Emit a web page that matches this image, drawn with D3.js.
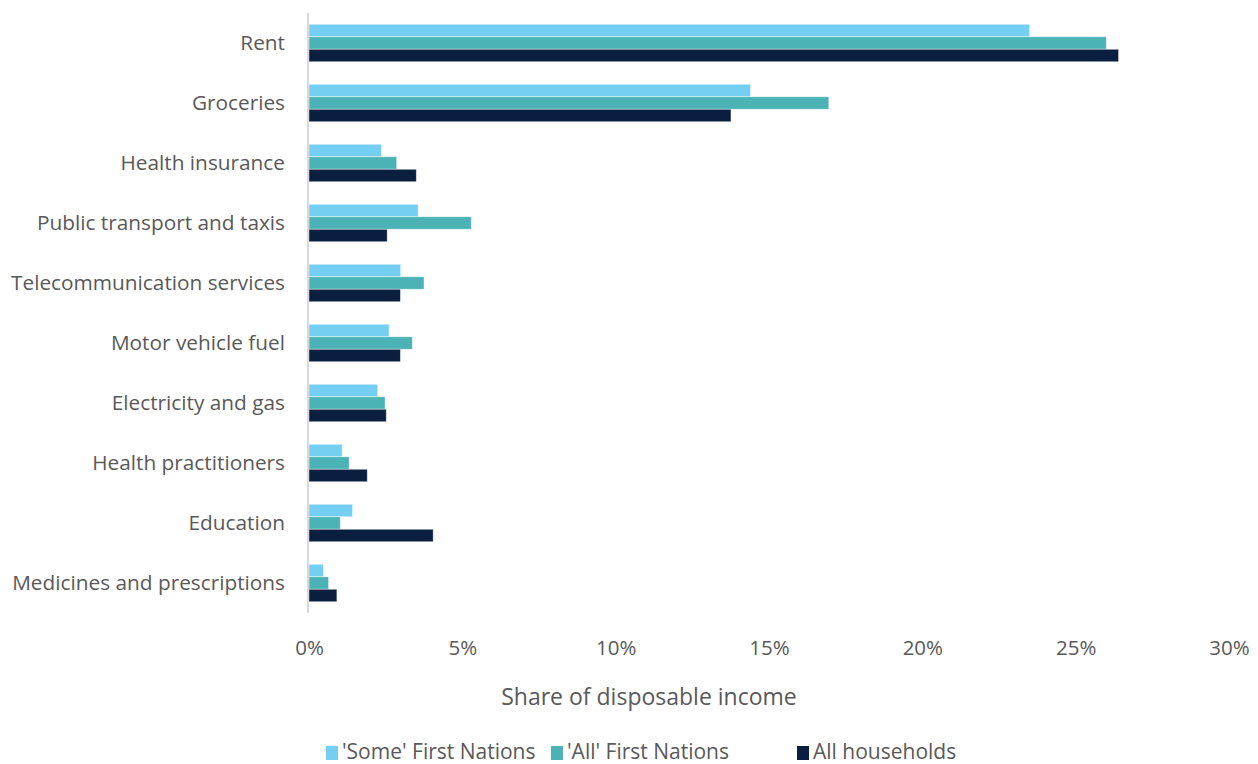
<!DOCTYPE html>
<html>
<head>
<meta charset="utf-8">
<script src="https://cdn.jsdelivr.net/npm/d3@7"></script>
<style>
  html, body { margin: 0; padding: 0; background: #fff; }
  svg text { font-family: "Open Sans", "Noto Sans", sans-serif; fill: #595959; }
</style>
</head>
<body>
<svg id="chart" width="1258" height="764"></svg>
<script>
// Household spending categories, top to bottom
const categories = [
  "Rent", "Groceries", "Health insurance", "Public transport and taxis",
  "Telecommunication services", "Motor vehicle fuel", "Electricity and gas",
  "Health practitioners", "Education", "Medicines and prescriptions"
];
const seriesNames = ["'Some' First Nations", "'All' First Nations", "All households"];
// Share of disposable income (%)
const someFirstNations = [23.5, 14.4, 2.36, 3.56, 2.99, 2.61, 2.24, 1.08, 1.42, 0.47];
const allFirstNations  = [26.0, 16.95, 2.86, 5.29, 3.75, 3.37, 2.48, 1.31, 1.02, 0.64];
const allHouseholds    = [26.4, 13.76, 3.5, 2.55, 2.98, 2.98, 2.52, 1.90, 4.05, 0.91];
const xTicks = [0, 5, 10, 15, 20, 25, 30];
const colors = ["#75CFF3", "#4BB2B5", "#0A1F40"];

const series = [someFirstNations, allFirstNations, allHouseholds];
const svg = d3.select("#chart");

const plot = { left: 309, right: 1229, top: 13, bottom: 613 };

const x = d3.scaleLinear().domain([0, 30]).range([plot.left, plot.right]);
const y = d3.scaleBand().domain(categories).range([plot.top, plot.bottom]).paddingInner(0.375).paddingOuter(0.1875);
const ySub = d3.scaleBand().domain(d3.range(seriesNames.length)).range([0, y.bandwidth()]);

// Bars
const groups = svg.append("g").selectAll("g")
  .data(categories)
  .join("g")
  .attr("transform", d => `translate(0,${y(d)})`);

groups.selectAll("rect")
  .data((d, i) => series.map((s, k) => ({ k, v: s[i] })))
  .join("rect")
  .attr("x", x(0))
  .attr("y", d => ySub(d.k))
  .attr("width", d => x(d.v) - x(0))
  .attr("height", ySub.bandwidth())
  .attr("fill", d => colors[d.k])
  .attr("stroke", "rgba(255,255,255,0.55)")
  .attr("stroke-width", 0.8);

// Vertical category axis line
svg.append("line")
  .attr("x1", x(0) - 1).attr("x2", x(0) - 1)
  .attr("y1", plot.top).attr("y2", plot.bottom)
  .attr("stroke", "#d9d9d9").attr("stroke-width", 2);

// Category labels
const yAxis = d3.axisLeft(y).tickSize(0).tickPadding(24);
const yG = svg.append("g").attr("transform", `translate(${x(0)},0)`).call(yAxis);
yG.select(".domain").remove();
yG.selectAll("text").style("font-size", "20.8px").attr("fill", "#595959");

// Value axis ticks
const xAxis = d3.axisBottom(x).tickValues(xTicks).tickFormat(d => d + "%").tickSize(0).tickPadding(27);
const xG = svg.append("g").attr("transform", `translate(0,${plot.bottom})`).call(xAxis);
xG.select(".domain").remove();
xG.selectAll("text").style("font-size", "20.5px").attr("fill", "#595959");

// Axis title
svg.append("text")
  .attr("x", 649).attr("y", 705)
  .attr("text-anchor", "middle")
  .style("font-size", "23px")
  .text("Share of disposable income");

// Legend
const legendX = [326, 551, 797];
const legend = svg.append("g").selectAll("g")
  .data(seriesNames)
  .join("g")
  .attr("transform", (d, i) => `translate(${legendX[i]},746)`);
legend.append("rect")
  .attr("width", 12).attr("height", 14)
  .attr("fill", (d, i) => colors[i]);
legend.append("text")
  .attr("x", 16).attr("y", 13)
  .style("font-size", "21px")
  .text(d => d);
</script>
</body>
</html>
